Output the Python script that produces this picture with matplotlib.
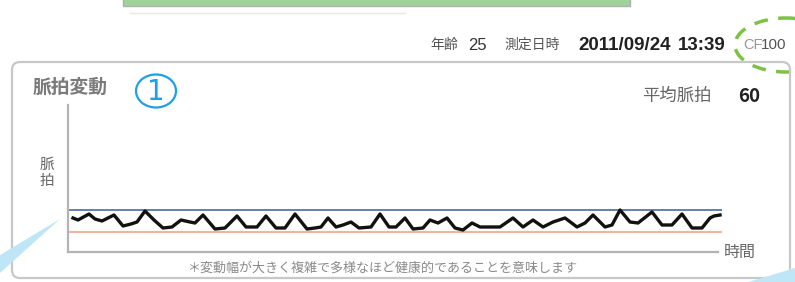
import matplotlib
matplotlib.use("Agg")
import matplotlib.pyplot as plt
from matplotlib.patches import FancyBboxPatch, Ellipse, Polygon, Rectangle

W, H = 795, 282

# pulse wave: time index and pulse level (screen units)
time_idx = [5, 10, 21, 27, 34, 46, 55, 63, 69, 77, 86, 95, 104, 113, 122, 127, 135,
            147, 157, 169, 178, 189, 198, 208, 217, 227, 239, 247, 253, 260, 268,
            275, 283, 291, 303, 312, 321, 328, 337, 345, 355, 362, 370, 379, 387,
            395, 404, 412, 422, 432, 445, 455, 465, 475, 485, 497, 509, 517, 525,
            537, 544, 552, 562, 570, 584, 594, 604, 614, 624, 634, 642, 646, 652]
pulse = [34, 32, 38, 33, 31, 37, 26, 28, 30, 41, 32, 24, 25, 32, 30, 29, 37,
         23, 24, 36, 25, 25, 36, 24, 24, 38, 23, 24, 25, 34, 25,
         27, 30, 24, 25, 38, 25, 25, 34, 23, 24, 32, 29, 34, 24,
         22, 29, 25, 25, 25, 34, 25, 32, 25, 30, 34, 25, 29, 37,
         25, 27, 42, 30, 29, 40, 27, 27, 38, 24, 24, 34, 36, 37]
upper_ref = 42
lower_ref = 20
time_end = 650
level_top = 147

avg_pulse = 60
age = 25
date_str = "2011/09/24"
time_str = "13:39"

JP = ["Noto Sans CJK JP", "DejaVu Sans"]
NARROW = ["Liberation Sans Narrow", "Liberation Sans", "DejaVu Sans"]

fig = plt.figure(figsize=(W / 100, H / 100), dpi=100)
bg = fig.add_axes([0, 0, 1, 1])
bg.set_xlim(0, W)
bg.set_ylim(H, 0)
bg.axis("off")

# blurry green banner cut off at the top
bg.add_patch(Rectangle((123, -2), 507, 8, facecolor="#9fd39a", edgecolor="#b0b0b0", lw=1))
bg.plot([130, 405], [13, 13], color="#e8e8e8", lw=1)

# header line
bg.text(430, 45, "年齢", fontsize=10, color="#555", family=JP, va="center")
bg.text(468, 45, str(age), fontsize=12, color="#333", family=NARROW, va="center")
bg.text(504, 45, "測定日時", fontsize=10, color="#555", family=JP, va="center")
bg.text(671, 45, date_str, fontsize=13.5, color="#222", family=NARROW, weight="bold",
        va="center", ha="right")
bg.text(726, 45, time_str, fontsize=13.5, color="#222", family=NARROW, weight="bold",
        va="center", ha="right")
bg.text(743, 45, "CF", fontsize=10.5, color="#999", family=NARROW, va="center")
bg.text(761, 45, "100", fontsize=11, color="#555", family=NARROW, va="center")
bg.add_patch(Ellipse((786, 45), 102, 54, fill=False, edgecolor="#7dc242", lw=2.5,
                     linestyle=(0, (4, 3))))

# panel frame
bg.add_patch(FancyBboxPatch((12, 62), 778, 216, boxstyle="round,pad=0,rounding_size=8",
                            facecolor="none", edgecolor="#c8c8c8", lw=1.6))
bg.text(33, 87, "脈拍変動", fontsize=13.5, color="#7a7a7a", family=JP, weight="bold",
        va="center")
bg.add_patch(Ellipse((156, 91), 40, 33, fill=False, edgecolor="#1ea0e6", lw=1.6))
bg.text(156, 92, "1", fontsize=20, color="#1ea0e6", family=["DejaVu Sans"],
        ha="center", va="center")
bg.text(642, 96, "平均脈拍", fontsize=12.5, color="#666", family=JP, va="center")
bg.text(738, 97, str(avg_pulse), fontsize=13.5, color="#222", family=JP, weight="bold",
        va="center")
bg.text(40, 173, "脈\n拍", fontsize=10.5, color="#666", family=JP, ha="left", va="center",
        linespacing=1.1)
bg.text(724, 252, "時間", fontsize=11.5, color="#666", family=JP, va="center")
bg.text(383, 268, "＊変動幅が大きく複雑で多様なほど健康的であることを意味します",
        fontsize=9.4, color="#8a8a8a", family=JP, ha="center", va="center")

# light blue callout wedges
bg.add_patch(Polygon([(0, 255), (60, 219), (0, 273)], closed=True, facecolor="#bfe6f7",
                     edgecolor="none"))
bg.add_patch(Polygon([(745, 283), (795, 268), (795, 283)], closed=True, facecolor="#bfe6f7",
                     edgecolor="none"))

# chart area
ax = fig.add_axes([68 / W, (H - 252) / H, (722 - 68) / W, (252 - 105) / H])
ax.patch.set_alpha(0)
ax.set_xlim(0, 654)
ax.set_ylim(0, level_top)
for s in ("top", "right"):
    ax.spines[s].set_visible(False)
for s in ("left", "bottom"):
    ax.spines[s].set_color("#b4b4b4")
    ax.spines[s].set_linewidth(1.6)
ax.spines["bottom"].set_bounds(0, time_end)
ax.set_xticks([])
ax.set_yticks([])

ax.axhline(upper_ref, color="#5b76a6", lw=1.3)
ax.axhline(lower_ref, color="#f2b49c", lw=1.5)
ax.plot(time_idx, pulse, color="#111", lw=2.4, solid_joinstyle="round")

fig.savefig("out.png", dpi=100)
